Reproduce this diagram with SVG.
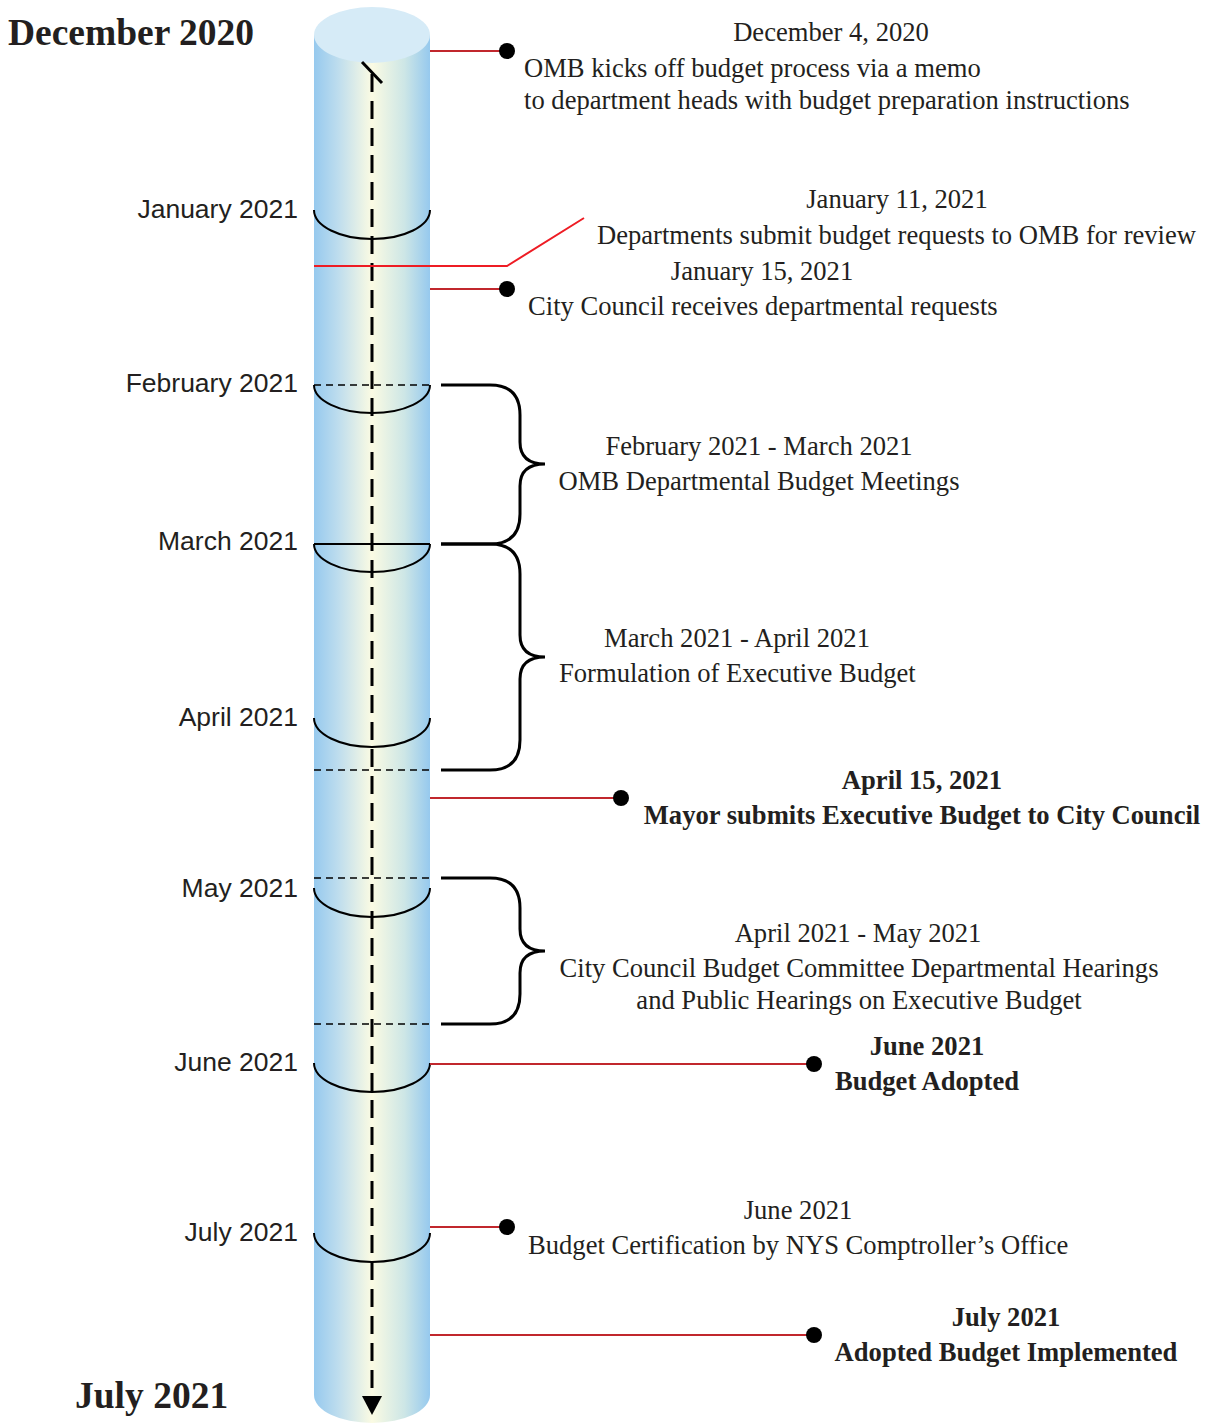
<svg xmlns="http://www.w3.org/2000/svg" width="1211" height="1423" viewBox="0 0 1211 1423">
<defs>
<linearGradient id="cyl" x1="0" y1="0" x2="1" y2="0">
<stop offset="0" stop-color="#96c9ee"/>
<stop offset="0.2" stop-color="#bcdcee"/>
<stop offset="0.5" stop-color="#fbfbe3"/>
<stop offset="0.78" stop-color="#cde6e6"/>
<stop offset="1" stop-color="#96c9ee"/>
</linearGradient>
<style>
.mon{font-family:"Liberation Sans",Arial,sans-serif;font-size:26.5px;fill:#231f20;text-anchor:end}
.t{font-family:"Liberation Serif","Times New Roman",serif;font-size:26.6px;fill:#231f20}
.c{text-anchor:middle}
.b{font-weight:bold}
.big{font-family:"Liberation Serif","Times New Roman",serif;font-size:37.5px;font-weight:bold;fill:#231f20}
.arc{fill:none;stroke:#000;stroke-width:2}
.dl{fill:none;stroke:#000;stroke-width:1.6;stroke-dasharray:7 5}
.brace{fill:none;stroke:#000;stroke-width:3}
.red{fill:none;stroke:#c1272d;stroke-width:2}
.red2{fill:none;stroke:#ee1c24;stroke-width:2}
.dot{fill:#000}
</style>
</defs>
<rect width="1211" height="1423" fill="#fff"/>

<g id="cylinder">
<path d="M314,35 V1395 A58,28 0 0,0 430,1395 V35 Z" fill="url(#cyl)"/>
<ellipse cx="372" cy="35" rx="58" ry="28" fill="#d6ebf7"/>
</g>

<g id="month-markers">
<path class="arc" d="M314,210 A58,29 0 0,0 430,210"/>
<line class="dl" x1="314" y1="385" x2="430" y2="385"/>
<path class="arc" d="M314,385 A58,28 0 0,0 430,385"/>
<line class="arc" x1="314" y1="544" x2="430" y2="544"/>
<path class="arc" d="M314,544 A58,28 0 0,0 430,544"/>
<path class="arc" d="M314,718 A58,29 0 0,0 430,718"/>
<line class="dl" x1="314" y1="770" x2="430" y2="770"/>
<line class="dl" x1="314" y1="878" x2="430" y2="878"/>
<path class="arc" d="M314,888 A58,29 0 0,0 430,888"/>
<line class="dl" x1="314" y1="1024" x2="430" y2="1024"/>
<path class="arc" d="M314,1063 A58,29 0 0,0 430,1063"/>
<path class="arc" d="M314,1233 A58,29 0 0,0 430,1233"/>
</g>

<g id="time-arrow">
<line x1="362" y1="62" x2="382" y2="83" stroke="#000" stroke-width="3"/>
<line x1="372" y1="74" x2="372" y2="1396" stroke="#000" stroke-width="3" stroke-dasharray="18 9"/>
<polygon points="362,1396 382,1396 372,1415" fill="#000"/>
</g>

<g id="month-labels">
<text class="mon" x="298" y="218">January 2021</text>
<text class="mon" x="298" y="392">February 2021</text>
<text class="mon" x="298" y="550">March 2021</text>
<text class="mon" x="298" y="726">April 2021</text>
<text class="mon" x="298" y="897">May 2021</text>
<text class="mon" x="298" y="1071">June 2021</text>
<text class="mon" x="298" y="1241">July 2021</text>
<text class="big" x="8" y="45">December 2020</text>
<text class="big" x="75" y="1408">July 2021</text>
</g>

<g id="connectors">
<path class="red" d="M430,51 H507"/>
<path class="red2" d="M314,266 H507 L584,218"/>
<path class="red" d="M430,289 H507"/>
<path class="red" d="M430,798 H621"/>
<path class="red" d="M430,1064 H814"/>
<path class="red" d="M430,1227 H507"/>
<path class="red" d="M430,1335 H814"/>
<circle class="dot" cx="507" cy="51" r="8"/>
<circle class="dot" cx="507" cy="289" r="8"/>
<circle class="dot" cx="621" cy="798" r="8"/>
<circle class="dot" cx="814" cy="1064" r="8"/>
<circle class="dot" cx="507" cy="1227" r="8"/>
<circle class="dot" cx="814" cy="1335" r="8"/>
<path class="brace" d="M441,385 H490 Q520,385 520,415 V442 Q520,464 545,464 Q520,464 520,486 V514 Q520,544 490,544 H441"/>
<path class="brace" d="M441,544 H490 Q520,544 520,574 V635 Q520,657 545,657 Q520,657 520,679 V740 Q520,770 490,770 H441"/>
<path class="brace" d="M441,878 H490 Q520,878 520,908 V929 Q520,951 545,951 Q520,951 520,973 V994 Q520,1024 490,1024 H441"/>
</g>

<g id="ev-dec4">
<text class="t c" x="831" y="41">December 4, 2020</text>
<text class="t" x="524" y="77">OMB kicks off budget process via a memo</text>
<text class="t" x="524" y="109">to department heads with budget preparation instructions</text>
</g>
<g id="ev-jan11">
<text class="t c" x="897" y="208">January 11, 2021</text>
<text class="t" x="597" y="244">Departments submit budget requests to OMB for review</text>
</g>
<g id="ev-jan15">
<text class="t c" x="762" y="280">January 15, 2021</text>
<text class="t" x="528" y="315">City Council receives departmental requests</text>
</g>
<g id="ev-febmar">
<text class="t c" x="759" y="455">February 2021 - March 2021</text>
<text class="t c" x="759" y="490">OMB Departmental Budget Meetings</text>
</g>
<g id="ev-marapr">
<text class="t c" x="737" y="647">March 2021 - April 2021</text>
<text class="t" x="559" y="682">Formulation of Executive Budget</text>
</g>
<g id="ev-apr15">
<text class="t c b" x="922" y="789">April 15, 2021</text>
<text class="t c b" x="922" y="824">Mayor submits Executive Budget to City Council</text>
</g>
<g id="ev-aprmay">
<text class="t c" x="858" y="942">April 2021 - May 2021</text>
<text class="t c" x="859" y="977">City Council Budget Committee Departmental Hearings</text>
<text class="t c" x="859" y="1009">and Public Hearings on Executive Budget</text>
</g>
<g id="ev-june-adopt">
<text class="t c b" x="927" y="1055">June 2021</text>
<text class="t c b" x="927" y="1090">Budget Adopted</text>
</g>
<g id="ev-june-cert">
<text class="t c" x="798" y="1219">June 2021</text>
<text class="t" x="528" y="1254">Budget Certification by NYS Comptroller’s Office</text>
</g>
<g id="ev-july">
<text class="t c b" x="1006" y="1326">July 2021</text>
<text class="t c b" x="1006" y="1361">Adopted Budget Implemented</text>
</g>
</svg>
